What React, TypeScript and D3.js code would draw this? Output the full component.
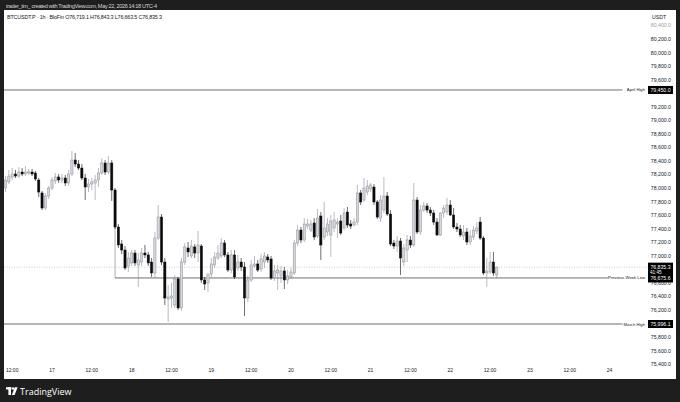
import * as d3 from "d3";

// one hourly bar: open, high, low, close (USDT)
type Bar = [number, number, number, number];

const day16: Bar[] = [
  [78003, 78180, 77944, 78121], [78092, 78269, 78062, 78180], [78166, 78298, 78121, 78210], [78210, 78269, 78151, 78180],
  [78180, 78313, 78151, 78239], [78239, 78298, 78180, 78210], [78210, 78328, 78180, 78239], [78225, 78284, 78195, 78239],
  [78239, 78284, 78180, 78210], [78225, 78254, 78107, 78136], [78121, 78151, 77871, 77944], [77930, 77959, 77678, 77708],
  [77708, 77930, 77678, 77885], [77885, 78033, 77841, 78003],
];
const day17: Bar[] = [
  [78003, 78166, 77974, 78121], [78107, 78225, 78062, 78166], [78166, 78210, 78077, 78121], [78121, 78210, 78077, 78151],
  [78151, 78195, 78033, 78077], [78077, 78269, 78033, 78210], [78210, 78549, 78180, 78416], [78416, 78520, 78313, 78357],
  [78357, 78416, 78269, 78298], [78298, 78357, 78121, 78151], [78151, 78210, 77826, 78018], [78018, 78136, 77944, 78062],
  [78062, 78151, 77974, 78092], [78077, 78195, 77826, 78121], [78121, 78298, 78018, 78225], [78225, 78446, 78195, 78372],
  [78372, 78416, 78195, 78239], [78239, 78475, 78210, 78372], [78372, 78416, 77812, 77974], [77974, 78003, 77398, 77428],
  [77428, 77472, 77118, 77162], [77177, 77236, 77029, 77088], [77088, 77147, 76793, 76823], [76852, 77059, 76764, 76970],
];
const day18: Bar[] = [
  [76897, 77088, 76852, 77044], [77044, 77088, 76852, 76897], [76867, 77044, 76543, 76941], [76911, 77118, 76852, 77044],
  [77044, 77162, 76970, 77015], [77015, 77059, 76852, 76897], [76911, 76970, 76690, 76749], [76749, 77354, 76675, 77265],
  [77265, 77752, 77236, 77575], [77575, 77619, 76867, 76911], [76911, 76970, 76277, 76380], [76366, 76572, 76026, 76395],
  [76380, 76602, 76233, 76410], [76277, 76720, 76233, 76661], [76661, 76690, 76203, 76233], [76233, 76970, 76189, 76911],
  [76911, 77192, 76867, 77133], [77118, 77206, 76985, 77059], [77000, 77236, 76970, 77147], [77133, 77177, 76970, 77044],
  [77044, 77369, 76911, 77162], [77147, 77177, 76602, 76646], [76646, 76690, 76498, 76587], [76602, 76734, 76469, 76734],
];
const day19: Bar[] = [
  [76734, 76970, 76690, 76882], [76867, 77059, 76823, 76985], [76970, 77162, 76941, 77044], [77000, 77265, 76970, 77192],
  [77192, 77236, 76985, 77015], [77015, 77059, 76764, 76793], [76793, 77088, 76749, 77015], [77015, 77088, 76661, 76690],
  [76823, 77015, 76779, 76911], [76911, 76970, 76779, 76838], [76838, 76911, 76115, 76380], [76380, 76705, 76321, 76646],
  [76646, 76941, 76616, 76867], [76852, 77000, 76823, 76882], [76882, 76941, 76764, 76793], [76808, 77029, 76764, 76956],
  [76911, 77059, 76823, 77000], [76985, 77029, 76897, 76941], [76956, 77000, 76646, 76675], [76675, 76867, 76631, 76779],
  [76749, 76867, 76498, 76793], [76705, 76852, 76602, 76779], [76779, 76838, 76513, 76646], [76646, 76793, 76587, 76705],
];
const day20: Bar[] = [
  [76690, 76823, 76661, 76764], [76749, 77236, 76720, 77192], [77192, 77457, 77147, 77383], [77383, 77428, 77192, 77236],
  [77236, 77560, 77206, 77472], [77442, 77546, 77398, 77472], [77383, 77531, 77354, 77472], [77487, 77560, 77236, 77280],
  [77295, 77693, 77265, 77560], [77590, 77649, 76941, 77162], [77280, 77797, 77236, 77413], [77354, 77560, 77295, 77472],
  [77310, 77605, 76985, 77516], [77413, 77649, 77354, 77531], [77472, 77560, 77265, 77501], [77516, 77605, 77310, 77339],
  [77413, 77708, 77383, 77634], [77649, 77723, 77413, 77457], [77472, 77531, 77398, 77442], [77457, 77560, 77442, 77501],
  [77501, 78048, 77457, 77930], [77930, 77974, 77752, 77797], [77826, 78151, 77797, 78003], [77944, 78121, 77900, 78033],
];
const day21: Bar[] = [
  [77989, 78077, 77944, 78048], [78018, 78062, 77752, 77797], [77797, 77826, 77546, 77575], [77560, 77900, 77501, 77826],
  [77678, 78166, 77634, 77885], [77885, 77944, 77590, 77619], [77619, 77678, 77147, 77177], [77192, 77236, 77103, 77147],
  [77147, 77295, 77059, 77221], [77221, 77265, 76720, 76970], [76911, 77177, 76852, 77118], [77088, 77310, 76911, 77236],
  [77236, 77295, 77118, 77162], [77162, 78077, 77133, 77826], [77826, 77871, 77324, 77354], [77354, 77752, 77310, 77678],
  [77678, 77797, 77649, 77738], [77738, 77782, 77634, 77678], [77678, 77723, 77590, 77634], [77634, 77678, 77457, 77501],
  [77501, 77560, 77295, 77310], [77310, 77649, 77295, 77634], [77634, 77752, 77560, 77708], [77649, 77856, 77605, 77752],
];
const day22: Bar[] = [
  [77752, 77826, 77590, 77605], [77605, 77708, 77398, 77428], [77428, 77487, 77354, 77398], [77398, 77457, 77280, 77310],
  [77295, 77457, 77236, 77354], [77354, 77413, 77162, 77206], [77206, 77383, 77162, 77295], [77280, 77442, 77236, 77383],
  [77369, 77501, 77324, 77413], [77501, 77575, 77236, 77265], [77265, 77295, 76720, 76749], [76749, 76970, 76543, 76779],
  [76764, 77059, 76734, 76911], [76911, 77059, 76705, 76749], [76719.1, 76843.3, 76663.5, 76835.3],
];

const firstBarTime = Date.UTC(2026, 4, 16, 10);
const lastPrice = 76835.3;
const countdown = "41:45";
const levels = [
  { name: "April High", price: 79450 },
  { name: "Previous Week Low", price: 76675.6, from: Date.UTC(2026, 4, 17, 19), prior: 77428 },
  { name: "March High", price: 75996.1 },
];
const snapshotLine = "trader_tim_ created with TradingView.com, May 22, 2026 14:18 UTC-4";
const symbolLine = "BTCUSDT.P · 1h · BloFin   O76,719.1  H76,843.3  L76,663.5  C76,835.3";

const W = 680;
const H = 402;
const font = "'Liberation Sans', Arial, sans-serif";
const upFill = "#d6d8de";
const upStroke = "#8a8d96";
const downColor = "#0b0b0b";

export default function App() {
  const bars = [day16, day17, day18, day19, day20, day21, day22].flat().map((b, i) => ({
    t: new Date(firstBarTime + i * 3600000),
    open: b[0], high: b[1], low: b[2], close: b[3],
  }));

  const x = d3.scaleUtc().domain([new Date(Date.UTC(2026, 4, 17)), new Date(Date.UTC(2026, 4, 24))]).range([52, 609.6]);
  const y = d3.scaleLinear().domain([75400, 80400]).range([364.4, 25.6]);
  const bw = 2.2;
  const fmt = d3.format(",.1f");

  const boxPrices = [lastPrice, ...levels.map((l) => l.price)];
  const priceTicks = d3.range(75400, 80401, 200).filter((p) => boxPrices.every((b) => Math.abs(y(p) - y(b)) > 5));
  const timeTicks = d3.utcHour.every(12)!.range(new Date(Date.UTC(2026, 4, 16, 12)), new Date(Date.UTC(2026, 4, 24, 1)));

  return (
    <svg width={W} height={H} viewBox={`0 0 ${W} ${H}`} style={{ position: "fixed", left: 0, top: 0 }} fontFamily={font}>
      <rect width={W} height={H} fill="#1e1e1e" />
      <text x={6} y={7.8} fontSize={5.6} fill="#d4d4d4" textLength={151}>{snapshotLine}</text>
      <rect x={4} y={10} width={672} height={369} fill="#ffffff" />
      <text x={7} y={19} fontSize={5.4} fill="#131722" textLength={155}>{symbolLine}</text>

      {/* last price dotted line */}
      <line x1={4} x2={648} y1={y(lastPrice)} y2={y(lastPrice)} stroke="#b8b8b8" strokeWidth={0.7} strokeDasharray="1 1.5" />

      {/* level lines */}
      {levels.map((l) => {
        const endX = 645 - l.name.length * 2.05 - 2;
        const startX = l.from ? x(new Date(l.from)) : 4;
        return (
          <g key={l.name}>
            {l.prior !== undefined && (
              <line x1={startX} x2={startX} y1={y(l.prior)} y2={y(l.price)} stroke="#8c8c8c" strokeWidth={0.7} />
            )}
            <line x1={startX} x2={endX} y1={y(l.price)} y2={y(l.price)} stroke="#4a4a4a" strokeWidth={0.8} />
            <text x={645} y={y(l.price) + 1.5} fontSize={4.2} textAnchor="end" fill="#131722">{l.name}</text>
          </g>
        );
      })}

      {/* candles */}
      {bars.map((b) => {
        const cx = x(b.t);
        const up = b.close >= b.open;
        const top = y(Math.max(b.open, b.close));
        const bottom = y(Math.min(b.open, b.close));
        return (
          <g key={+b.t}>
            <line x1={cx} x2={cx} y1={y(b.high)} y2={y(b.low)} stroke={up ? upStroke : downColor} strokeWidth={0.6} />
            <rect
              x={cx - bw / 2}
              y={top}
              width={bw}
              height={Math.max(0.8, bottom - top)}
              fill={up ? upFill : downColor}
              stroke={up ? upStroke : downColor}
              strokeWidth={0.5}
            />
          </g>
        );
      })}

      {/* price axis */}
      <text x={659} y={19} fontSize={5.2} textAnchor="middle" fill="#131722">USDT</text>
      {priceTicks.map((p) => (
        <text key={p} x={671} y={y(p) + 1.8} fontSize={5.2} textAnchor="end" fill="#131722" opacity={p > 80300 ? 0.45 : 1}>
          {fmt(p)}
        </text>
      ))}
      {levels.filter((l) => l.name !== "Previous Week Low").map((l) => (
        <g key={l.name}>
          <rect x={648} y={y(l.price) - 4} width={25} height={8} fill="#000" />
          <text x={660.5} y={y(l.price) + 1.8} fontSize={5.2} textAnchor="middle" fill="#fff">{fmt(l.price)}</text>
        </g>
      ))}
      <rect x={648} y={y(lastPrice) - 4.5} width={25} height={13} fill="#000" />
      <text x={660.5} y={y(lastPrice) + 1.6} fontSize={5.2} textAnchor="middle" fill="#fff">{fmt(lastPrice)}</text>
      <text x={650} y={y(lastPrice) + 6.6} fontSize={4.6} fill="#fff">{countdown}</text>
      <rect x={648} y={y(levels[1].price) - 3.5} width={25} height={8} fill="#000" />
      <text x={660.5} y={y(levels[1].price) + 2.2} fontSize={5.2} textAnchor="middle" fill="#fff">{fmt(levels[1].price)}</text>

      {/* time axis */}
      {timeTicks.map((t) => (
        <text key={+t} x={x(t)} y={371.5} fontSize={5} textAnchor="middle" fill="#131722">
          {t.getUTCHours() === 0 ? String(t.getUTCDate()) : "12:00"}
        </text>
      ))}

      {/* TradingView mark */}
      <g fill="#ffffff">
        <rect x={6} y={387.2} width={5.4} height={2.3} />
        <rect x={8.4} y={387.2} width={2.6} height={7.8} />
        <circle cx={13.1} cy={388.4} r={1.25} />
        <path d="M14.8 387.2 L17.6 387.2 L14.6 395 L11.8 395 Z" />
        <text x={20} y={394.6} fontSize={9} fontFamily="'Open Sans', 'Liberation Sans', sans-serif">TradingView</text>
      </g>
    </svg>
  );
}
